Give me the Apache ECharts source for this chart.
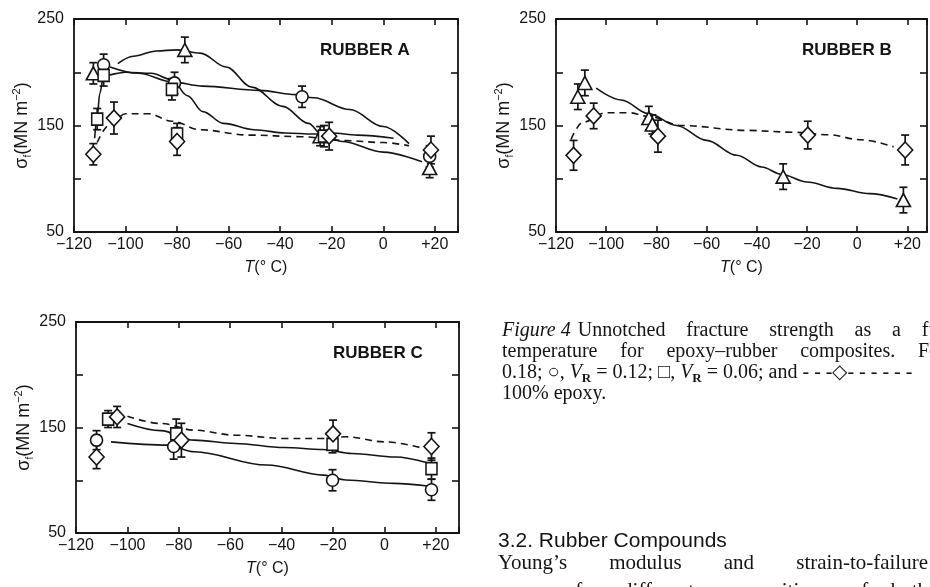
<!DOCTYPE html>
<html>
<head>
<meta charset="utf-8">
<script src="https://cdn.jsdelivr.net/npm/echarts@6.0.0/dist/echarts.min.js"></script>
<style>
  html, body { margin: 0; padding: 0; background: #fff; }
  #main { width: 930px; height: 587px; }
</style>
</head>
<body>
<div id="main"></div>
<script>
// ---- Rubber A (T in degC, sigma_f in MN m^-2, err = half error bar) ----
const aTriT = [-112.5, -77, -24.5, 18];
const aTriS = [199, 221, 140, 110];
const aTriE = [10, 12, 9, 9];
const aCirT = [-108.5, -81, -31.5, 18];
const aCirS = [207, 190, 177, 121];
const aCirE = [10, 10, 10, 10];
const aSqT = [-111, -108.5, -82, -80, -23];
const aSqS = [156, 197, 184, 142, 140];
const aSqE = [10, 10, 10, 10, 10];
const aDiaT = [-112.5, -104.5, -80, -21, 18.5];
const aDiaS = [123, 157, 135, 140, 127];
const aDiaE = [10, 15, 13, 13, 13];
// hand drawn curves of rubber A
const aTriCurveT = [-103, -97, -88, -80, -71, -61, -51, -39, -29, -24, -16, 0, 15];
const aTriCurveS = [208, 215, 220, 221, 218, 205, 186, 168, 152, 142, 135, 125, 116];
const aCirCurveT = [-106, -95, -82, -70, -48, -34, -27, -13, 0, 10];
const aCirCurveS = [205, 199, 191, 187, 183, 179, 176, 165, 149, 133];
const aSqCurveT = [-112, -111, -110, -108.5, -100, -90, -82, -76, -70, -62, -50, -38, -27, -20, -10, 4];
const aSqCurveS = [138, 158, 180, 197, 200, 199, 193, 178, 163, 152, 146, 143, 142, 143, 141, 138];
const aDiaCurveT = [-111, -106.5, -100, -91, -82, -71, -52, -32, -16, 0, 10];
const aDiaCurveS = [134, 150, 161, 161, 154, 146, 141, 139.5, 136, 134, 131];

// ---- Rubber B ----
const bTriT = [-111.3, -108.5, -83, -81.6, -29.5, 18.4];
const bTriS = [177, 190, 157, 151, 102, 80];
const bTriE = [12, 12, 11, 9, 12, 12];
const bDiaT = [-113, -105, -79.4, -19.7, 19.1];
const bDiaS = [122, 159, 140, 141, 127];
const bDiaE = [14, 12, 15, 13, 14];
const bTriCurveT = [-104, -94, -83, -72, -60, -48, -38, -30, -20, -8, 5, 16];
const bTriCurveS = [185, 174, 161, 150, 136, 122, 111, 104, 97, 91, 86, 81];
const bDiaCurveT = [-114, -109.4, -100, -91, -83, -70, -44, -25, -11.5, 1.5, 14.5];
const bDiaCurveS = [137, 153, 162, 162, 158.5, 150, 145.4, 143.6, 141.3, 136.6, 130];

// ---- Rubber C ----
const cCirT = [-112, -82, -20.2, 18.3];
const cCirS = [138, 132, 100, 91];
const cCirE = [9, 12, 10, 10];
const cSqT = [-107.5, -81, -20.2, 18.3];
const cSqS = [158, 144, 134, 111];
const cSqE = [8, 14, 8, 10];
const cDiaT = [-112, -104, -79, -20, 18.3];
const cDiaS = [122, 160, 138, 144, 132];
const cDiaE = [11, 10, 16, 13, 13];
const cCirCurveT = [-106.4, -84.3, -74, -45.8, -23.6, -15, 3.8, 16.8];
const cCirCurveS = [136.4, 133.3, 127, 114.4, 104.9, 100.2, 97, 94.5];
const cSqCurveT = [-100, -87, -74, -58, -39, -24, -12.6, 4.2, 16.7];
const cSqCurveS = [153.8, 147, 138, 134.9, 131, 129.2, 125.4, 122, 116.6];
const cDiaCurveT = [-100, -87, -74, -58, -39, -24, -15, 0, 15.6];
const cDiaCurveS = [160.7, 153.8, 147.5, 142.7, 139.6, 139.6, 141.2, 136.4, 130];

const panelNames = ['RUBBER A', 'RUBBER B', 'RUBBER C'];
const yTicks = [50, 100, 150, 200, 250];
const yLabelled = [50, 150, 250];

const INK = '#141414';
const SANS = '"Liberation Sans", Arial, sans-serif';
const SERIF = '"Liberation Serif", "Times New Roman", serif';

const myChart = echarts.init(document.getElementById('main'));

const pts = (ts, ss) => ts.map((t, i) => [t, ss[i]]);
const errPts = (ts, ss, es) => ts.map((t, i) => [t, ss[i], es[i]]);

const fmtT = (v) => {
  if (v % 20 !== 0) return '';
  if (v > 0) return '+' + v;
  if (v < 0) return '\u2212' + (-v);
  return '0';
};

function renderErr(params, api) {
  const x = api.value(0);
  const y = api.value(1);
  const e = api.value(2);
  const top = api.coord([x, y + e]);
  const bot = api.coord([x, y - e]);
  const cap = 4;
  const st = { stroke: INK, lineWidth: 1.7 };
  return {
    type: 'group',
    children: [
      { type: 'line', shape: { x1: top[0], y1: top[1], x2: bot[0], y2: bot[1] }, style: st },
      { type: 'line', shape: { x1: top[0] - cap, y1: top[1], x2: top[0] + cap, y2: top[1] }, style: st },
      { type: 'line', shape: { x1: bot[0] - cap, y1: bot[1], x2: bot[0] + cap, y2: bot[1] }, style: st }
    ]
  };
}

const symbols = {
  tri: { symbol: 'triangle', size: [14, 13] },
  cir: { symbol: 'circle', size: 12 },
  sq: { symbol: 'rect', size: [11, 12] },
  dia: { symbol: 'diamond', size: [15, 16] }
};

const panels = [
  [
    { k: 'tri', t: aTriT, s: aTriS, e: aTriE, ct: aTriCurveT, cs: aTriCurveS },
    { k: 'cir', t: aCirT, s: aCirS, e: aCirE, ct: aCirCurveT, cs: aCirCurveS },
    { k: 'sq', t: aSqT, s: aSqS, e: aSqE, ct: aSqCurveT, cs: aSqCurveS },
    { k: 'dia', t: aDiaT, s: aDiaS, e: aDiaE, ct: aDiaCurveT, cs: aDiaCurveS, dashed: true }
  ],
  [
    { k: 'tri', t: bTriT, s: bTriS, e: bTriE, ct: bTriCurveT, cs: bTriCurveS },
    { k: 'dia', t: bDiaT, s: bDiaS, e: bDiaE, ct: bDiaCurveT, cs: bDiaCurveS, dashed: true }
  ],
  [
    { k: 'cir', t: cCirT, s: cCirS, e: cCirE, ct: cCirCurveT, cs: cCirCurveS },
    { k: 'sq', t: cSqT, s: cSqS, e: cSqE, ct: cSqCurveT, cs: cSqCurveS },
    { k: 'dia', t: cDiaT, s: cDiaS, e: cDiaE, ct: cDiaCurveT, cs: cDiaCurveS, dashed: true }
  ]
];

const grids = [
  { left: 74, top: 19, width: 384, height: 213 },
  { left: 556, top: 19, width: 378, height: 213 },
  { left: 76, top: 322, width: 383, height: 211 }
];
const xMax = [29, 27.8, 29];

const axisLine = { show: true, onZero: false, lineStyle: { color: INK, width: 1.8 } };
const xAxes = [];
const yAxes = [];
grids.forEach((g, i) => {
  xAxes.push({
    type: 'value', gridIndex: i, min: -120, max: xMax[i], interval: 20, position: 'bottom',
    axisLine, splitLine: { show: false },
    axisTick: { inside: true, length: 6, lineStyle: { color: INK, width: 1.6 } },
    axisLabel: { formatter: fmtT, color: INK, fontSize: 16, fontFamily: SANS, margin: 5 },
    name: '{it|T}(\u00b0 C)', nameLocation: 'middle', nameGap: 28,
    nameTextStyle: { color: INK, fontSize: 16, fontFamily: SANS, rich: { it: { fontStyle: 'italic', fontSize: 16, fontFamily: SANS, color: INK } } }
  });
  xAxes.push({
    type: 'value', gridIndex: i, min: -120, max: xMax[i], interval: 20, position: 'top',
    axisLine, splitLine: { show: false }, axisLabel: { show: false },
    axisTick: { inside: true, length: 6, lineStyle: { color: INK, width: 1.6 } }
  });
  yAxes.push({
    type: 'value', gridIndex: i, min: yTicks[0], max: yTicks[yTicks.length - 1], interval: 50, position: 'left',
    axisLine, splitLine: { show: false },
    axisTick: { inside: true, length: 7, lineStyle: { color: INK, width: 1.6 } },
    axisLabel: { formatter: (v) => (yLabelled.indexOf(v) >= 0 ? String(v) : ''), color: INK, fontSize: 16, fontFamily: SANS, margin: 10 },
    name: '\u03c3{sub|f}(MN m{sup|\u22122})', nameLocation: 'middle', nameRotate: 90, nameGap: 38,
    nameTextStyle: {
      color: INK, fontSize: 18, fontFamily: SANS, lineHeight: 22,
      rich: {
        sub: { fontSize: 10, lineHeight: 8, verticalAlign: 'bottom', color: INK, fontFamily: SANS },
        sup: { fontSize: 11, lineHeight: 10, verticalAlign: 'top', color: INK, fontFamily: SANS }
      }
    }
  });
  yAxes.push({
    type: 'value', gridIndex: i, min: yTicks[0], max: yTicks[yTicks.length - 1], interval: 50, position: 'right',
    axisLine, splitLine: { show: false }, axisLabel: { show: false },
    axisTick: { inside: true, length: 7, lineStyle: { color: INK, width: 1.6 } }
  });
});

const series = [];
panels.forEach((sets, i) => {
  sets.forEach((d) => {
    const axes = { xAxisIndex: 2 * i, yAxisIndex: 2 * i };
    series.push(Object.assign({
      type: 'custom', renderItem: renderErr, data: errPts(d.t, d.s, d.e),
      encode: { x: 0, y: 1 }, z: 2, silent: true
    }, axes));
    series.push(Object.assign({
      type: 'line', data: pts(d.ct, d.cs), smooth: 0.35, smoothMonotone: 'x', showSymbol: false,
      lineStyle: { color: INK, width: 1.6, type: d.dashed ? [7, 5] : 'solid' }, z: 3, silent: true
    }, axes));
    series.push(Object.assign({
      type: 'scatter', data: pts(d.t, d.s), symbol: symbols[d.k].symbol, symbolSize: symbols[d.k].size,
      itemStyle: { color: '#fff', borderColor: INK, borderWidth: 1.6, opacity: 1 }, z: 4, silent: true
    }, axes));
  });
});

// justified text lines of the page around the figure
const measure = document.createElement('canvas').getContext('2d');
function textWidth(str, font) {
  measure.font = font;
  return measure.measureText(str).width;
}
const fontOf = (w, size) => (w.it ? 'italic ' : '') + size + 'px ' + SERIF;
function justify(words, fit, x0, x1, y, size) {
  const widths = words.map((w) => textWidth(w.t, fontOf(w, size)));
  let used = 0;
  for (let i = 0; i < fit; i++) used += widths[i];
  const gap = (x1 - x0 - used) / (fit - 1);
  let x = x0;
  return words.map((w, i) => {
    const el = { type: 'text', x, y, silent: true, style: { text: w.t, font: fontOf(w, size), fill: INK, verticalAlign: 'middle' } };
    x += widths[i] + gap;
    return el;
  });
}
const W = (t, it) => ({ t, it });

const CAP = 20;
const figLabel = W('Figure 4', true);
const figLabelEnd = 502 + textWidth(figLabel.t, fontOf(figLabel, CAP)) + 7;
const forEnd = 918 + textWidth('For', fontOf(W('For'), CAP));

const graphics = [
  { type: 'text', x: 320, y: 50, silent: true, style: { text: panelNames[0], font: 'bold 17px ' + SANS, fill: INK, verticalAlign: 'middle' } },
  { type: 'text', x: 802, y: 50, silent: true, style: { text: panelNames[1], font: 'bold 17px ' + SANS, fill: INK, verticalAlign: 'middle' } },
  { type: 'text', x: 333, y: 353, silent: true, style: { text: panelNames[2], font: 'bold 17px ' + SANS, fill: INK, verticalAlign: 'middle' } },
  { type: 'text', x: 502, y: 331, silent: true, style: { text: figLabel.t, font: fontOf(figLabel, CAP), fill: INK, verticalAlign: 'middle' } }
]
  .concat(justify([W('Unnotched'), W('fracture'), W('strength'), W('as'), W('a'), W('function'), W('of')], 5, figLabelEnd, 901, 331, CAP))
  .concat(justify([W('temperature'), W('for'), W('epoxy\u2013rubber'), W('composites.'), W('For'), W('rubber')], 5, 502, forEnd, 352, CAP))
  .concat([
    {
      type: 'text', x: 502, y: 373, silent: true,
      style: {
        text: '0.18; \u25cb, {i|V}{s|R} = 0.12; \u25a1, {i|V}{s|R} = 0.06; and - - -\u25c7- - - - - -',
        font: CAP + 'px ' + SERIF, fill: INK, verticalAlign: 'middle', lineHeight: 24,
        rich: {
          i: { fontStyle: 'italic', fontSize: CAP, fontFamily: SERIF, lineHeight: 24 },
          s: { fontWeight: 'bold', fontSize: 13, fontFamily: SERIF, lineHeight: 13, verticalAlign: 'bottom' }
        }
      }
    },
    { type: 'text', x: 502, y: 394, silent: true, style: { text: '100% epoxy.', font: CAP + 'px ' + SERIF, fill: INK, verticalAlign: 'middle' } },
    { type: 'text', x: 498, y: 541, silent: true, style: { text: '3.2. Rubber Compounds', font: '21px ' + SANS, fill: INK, verticalAlign: 'middle' } }
  ])
  .concat(justify([W('Young\u2019s'), W('modulus'), W('and'), W('strain-to-failure')], 4, 498, 928, 563, 21))
  .concat(justify([W('curves'), W('for'), W('different'), W('compositions'), W('of'), W('both')], 6, 498, 928, 591, 21));

const option = {
  animation: false,
  backgroundColor: '#fff',
  grid: grids,
  xAxis: xAxes,
  yAxis: yAxes,
  series,
  graphic: graphics
};
myChart.setOption(option);
</script>
</body>
</html>
